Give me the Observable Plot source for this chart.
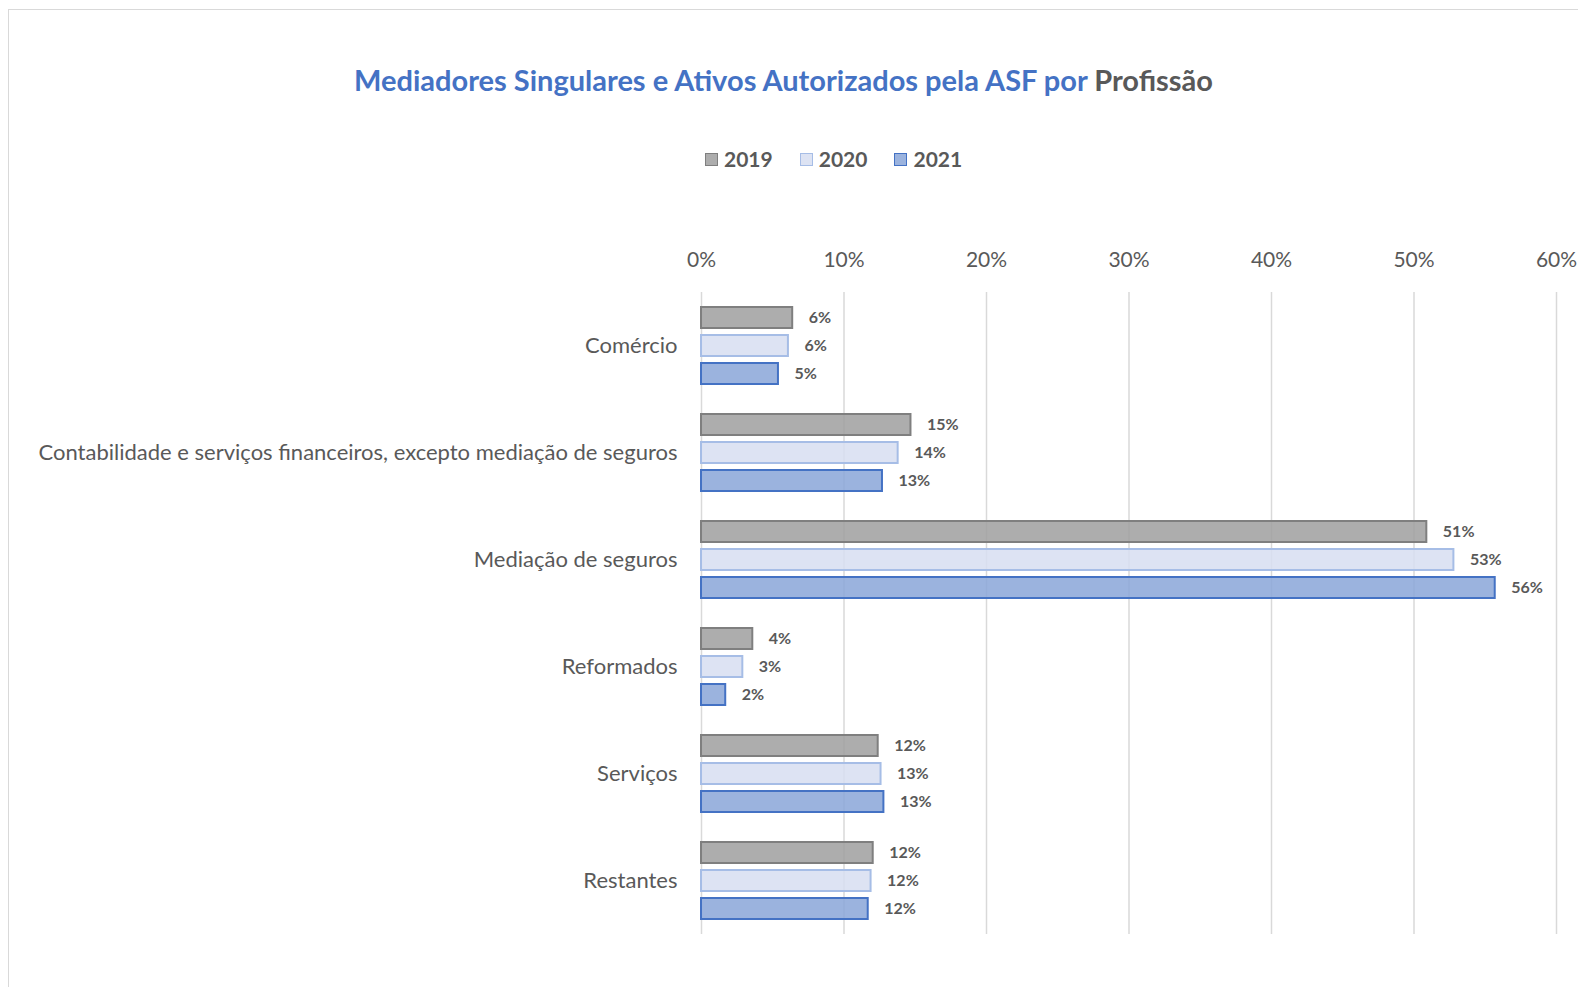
<!DOCTYPE html>
<html>
<head>
<meta charset="utf-8">
<script src="https://cdn.jsdelivr.net/npm/d3@7"></script>
<script src="https://cdn.jsdelivr.net/npm/@observablehq/plot@0.6"></script>
<style>
  html, body { margin: 0; padding: 0; background: #fff; width: 1578px; height: 987px; overflow: hidden; }
  body { position: relative; font-family: Lato, "Noto Sans", sans-serif; }
  #frame { position: absolute; left: 8px; top: 9px; width: 1600px; height: 1000px; border: 1.5px solid #d9d9d9; box-sizing: border-box; }
  #title { position: absolute; left: 0; width: 1567px; top: 62px; text-align: center; font-size: 29px; font-weight: 700; line-height: 36px; color: #4472C4; white-space: nowrap; }
  #title .dark { color: #595959; }
  #legend { position: absolute; left: 705px; top: 145px; display: flex; align-items: center; font-size: 21px; font-weight: 700; color: #595959; line-height: 28px; }
  .item { display: flex; align-items: center; margin-right: 27px; }
  .sw { width: 11px; height: 11px; border: 1.5px solid; margin-right: 6px; }
  #chart { position: absolute; left: 0; top: 229px; }
</style>
</head>
<body>
<div id="frame"></div>
<div id="title">Mediadores Singulares e Ativos Autorizados pela ASF por <span class="dark">Profissão</span></div>
<div id="legend"></div>
<div id="chart"></div>
<script>
const categories = [
  "Comércio",
  "Contabilidade e serviços financeiros, excepto mediação de seguros",
  "Mediação de seguros",
  "Reformados",
  "Serviços",
  "Restantes"
];
const years = ["2019", "2020", "2021"];
const values2019 = [0.064, 0.147, 0.509, 0.036, 0.124, 0.1205];
const values2020 = [0.061, 0.138, 0.528, 0.029, 0.126, 0.119];
const values2021 = [0.054, 0.127, 0.557, 0.017, 0.128, 0.117];
const xTicks = [0, 0.1, 0.2, 0.3, 0.4, 0.5, 0.6];

const fills = {"2019": "#9F9F9F", "2020": "#D7DEF1", "2021": "#89A6D8"};
const strokes = {"2019": "#7F7F7F", "2020": "#A6BDE6", "2021": "#4472C4"};
const legendFills = {"2019": "#ADADAD", "2020": "#DDE3F3", "2021": "#9BB3DE"};

const series = {"2019": values2019, "2020": values2020, "2021": values2021};
const data = [];
for (const y of years) {
  categories.forEach((c, i) => data.push({category: c, year: y, value: series[y][i]}));
}

const legend = document.getElementById("legend");
for (const y of years) {
  const it = document.createElement("div");
  it.className = "item";
  it.innerHTML = `<span class="sw" style="background:${legendFills[y]};border-color:${strokes[y]}"></span><span>${y}</span>`;
  legend.appendChild(it);
}

const pct = d3.format(".0%");
const marks = [
  Plot.gridX(xTicks, {stroke: "#d9d9d9", strokeWidth: 1.5, strokeOpacity: 1}),
  Plot.axisX(xTicks, {anchor: "top", tickSize: 0, tickPadding: 26, tickFormat: pct, fontSize: 21, fill: "#595959", label: null, facetAnchor: "top"}),
  Plot.axisFy({anchor: "left", tickSize: 0, tickPadding: 24, fontSize: 22, fill: "#595959", label: null})
];
for (const y of years) {
  marks.push(Plot.barX(data.filter(d => d.year === y), {
    x: "value", y: "year", fy: "category",
    fill: fills[y], fillOpacity: 0.85, stroke: strokes[y], strokeWidth: 2
  }));
}
marks.push(Plot.text(data, {
  x: "value", y: "year", fy: "category",
  text: d => pct(d.value), textAnchor: "start", dx: 16,
  fontSize: 16, fontWeight: "bold", fill: "#595959"
}));

const chart = Plot.plot({
  width: 1578,
  height: 716,
  marginTop: 61,
  marginBottom: 10,
  marginLeft: 701,
  marginRight: 22,
  style: {fontFamily: "Lato, 'Noto Sans', sans-serif", background: "transparent", overflow: "visible"},
  x: {domain: [0, 0.6], axis: null},
  y: {domain: years, axis: null, paddingInner: 0.24, paddingOuter: 0.5},
  fy: {domain: categories, paddingInner: 0, paddingOuter: 0, axis: null},
  marks
});
document.getElementById("chart").appendChild(chart);
</script>
</body>
</html>
